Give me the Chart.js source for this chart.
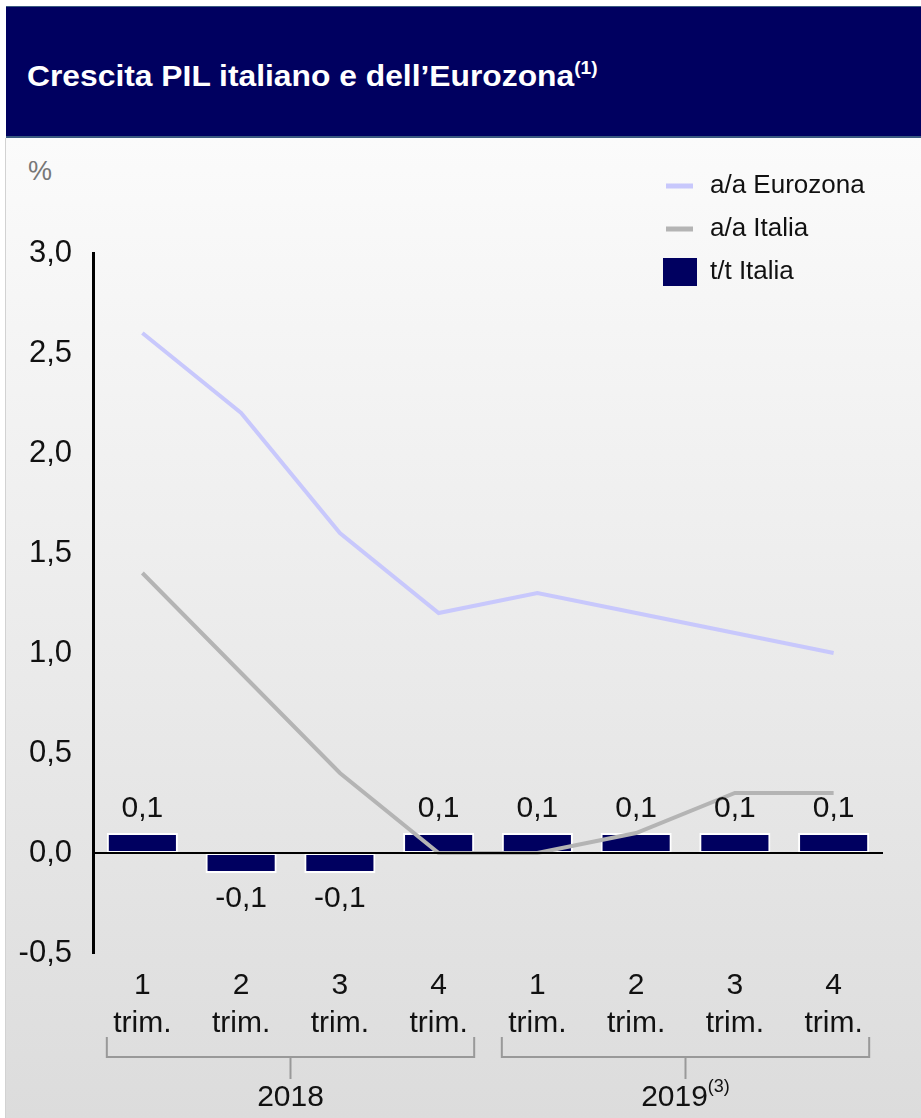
<!DOCTYPE html>
<html>
<head>
<meta charset="utf-8">
<script src="https://cdn.jsdelivr.net/npm/chart.js@4"></script>
<style>
  body { margin: 0; background: #fff; font-family: "Liberation Sans", Arial, sans-serif; }
  #wrap { position: relative; width: 921px; height: 1118px; overflow: hidden; }
  #title {
    position: absolute; left: 6px; top: 6px; width: 915px; height: 129px;
    background: #000060; border-top: 1px solid #3a5a80; border-bottom: 2px solid #3a5a80;
    color: #fff; font-weight: bold; font-size: 30px;
    box-sizing: content-box;
  }
  #title span.t { position: absolute; left: 21px; top: 51px; white-space: nowrap;
                  transform: scaleX(1.06); transform-origin: left center; }
  #title sup { font-size: 18px; vertical-align: 12px; }
  #body {
    position: absolute; left: 5px; top: 138px; width: 915px; height: 980px;
    border-left: 1px solid #d2d2d2;
    background: linear-gradient(#fbfbfb, #dcdcdc);
  }
  #pct { position: absolute; left: 22px; top: 18px; color: #777; font-size: 27px; }
  canvas { position: absolute; left: 0; top: 0; }
</style>
</head>
<body>
<div id="wrap">
  <div id="title"><span class="t">Crescita PIL italiano e dell’Eurozona<sup>(1)</sup></span></div>
  <div id="body">
    <div id="pct">%</div>
    <canvas id="gdpChart" width="915" height="980"></canvas>
  </div>
</div>
<script>
const quarters = [['1', 'trim.'], ['2', 'trim.'], ['3', 'trim.'], ['4', 'trim.'],
                  ['1', 'trim.'], ['2', 'trim.'], ['3', 'trim.'], ['4', 'trim.']];
const years = [
  { label: '2018', note: '', from: 0, to: 3 },
  { label: '2019', note: '(3)', from: 4, to: 7 }
];
const eurozonaYoY = [2.6, 2.2, 1.6, 1.2, 1.3, 1.2, 1.1, 1.0];
const italiaYoY = [1.4, 0.9, 0.4, 0.0, 0.0, 0.1, 0.3, 0.3];
const italiaQoQ = [0.1, -0.1, -0.1, 0.1, 0.1, 0.1, 0.1, 0.1];

const FONT = '"Liberation Sans", Arial, sans-serif';
const fmt = v => v.toFixed(1).replace('.', ',');

// zero line, bar value labels, year brackets, legend
const extras = {
  id: 'extras',
  afterDatasetsDraw(chart) {
    const { ctx, chartArea } = chart;
    const x = chart.scales.x, y = chart.scales.y;
    const y0 = y.getPixelForValue(0);

    ctx.save();
    ctx.strokeStyle = '#000';
    ctx.lineWidth = 2;
    ctx.beginPath();
    ctx.moveTo(chartArea.left, y0);
    ctx.lineTo(chartArea.right, y0);
    ctx.stroke();

    ctx.fillStyle = '#111';
    ctx.font = '30px ' + FONT;
    ctx.textAlign = 'center';
    ctx.textBaseline = 'middle';
    const barMeta = chart.getDatasetMeta(0);
    barMeta.data.forEach((bar, i) => {
      const v = italiaQoQ[i];
      const yy = v >= 0 ? bar.y - 24 : bar.y + 26;
      ctx.fillText(fmt(v), bar.x, yy);
    });

    // year brackets
    const half = barMeta.data[0].width / 2;
    ctx.strokeStyle = '#999';
    ctx.lineWidth = 2;
    years.forEach(yr => {
      const l = x.getPixelForValue(yr.from) - half;
      const r = x.getPixelForValue(yr.to) + half;
      const m = (l + r) / 2;
      const top = 899, mid = 919, bot = 941;
      ctx.beginPath();
      ctx.moveTo(l, top); ctx.lineTo(l, mid); ctx.lineTo(r, mid); ctx.lineTo(r, top);
      ctx.moveTo(m, mid); ctx.lineTo(m, bot);
      ctx.stroke();

      ctx.font = '30px ' + FONT;
      const w1 = ctx.measureText(yr.label).width;
      ctx.font = '18px ' + FONT;
      const w2 = yr.note ? ctx.measureText(yr.note).width : 0;
      const start = m - (w1 + w2) / 2;
      ctx.textAlign = 'left';
      ctx.font = '30px ' + FONT;
      ctx.fillText(yr.label, start, 960);
      if (yr.note) {
        ctx.font = '18px ' + FONT;
        ctx.fillText(yr.note, start + w1, 949);
      }
    });

    // legend
    ctx.textAlign = 'left';
    ctx.font = '26px ' + FONT;
    const lx = 657, ly = 48, step = 43;
    chart.data.datasets.slice().reverse().forEach((ds, i) => {
      const yy = ly + i * step;
      if (ds.type === 'line') {
        ctx.fillStyle = ds.borderColor;
        ctx.fillRect(lx + 3, yy - 2.5, 27, 5);
      } else {
        ctx.fillStyle = ds.backgroundColor;
        ctx.fillRect(lx, yy - 14, 34, 28);
      }
      ctx.fillStyle = '#111';
      ctx.fillText(ds.label, lx + 47, yy);
    });
    ctx.restore();
  }
};

new Chart(document.getElementById('gdpChart'), {
  type: 'bar',
  data: {
    labels: quarters,
    datasets: [
      {
        label: 't/t Italia',
        data: italiaQoQ,
        backgroundColor: '#000060',
        borderColor: '#ffffff',
        borderWidth: 2,
        borderSkipped: false,
        categoryPercentage: 1,
        barPercentage: 0.72,
        order: 2
      },
      {
        type: 'line',
        label: 'a/a Italia',
        data: italiaYoY,
        borderColor: '#b4b4b4',
        borderWidth: 4,
        pointRadius: 0,
        tension: 0,
        order: 1
      },
      {
        type: 'line',
        label: 'a/a Eurozona',
        data: eurozonaYoY,
        borderColor: '#c8c8fc',
        borderWidth: 4,
        pointRadius: 0,
        tension: 0,
        order: 1
      }
    ]
  },
  options: {
    responsive: false,
    animation: false,
    layout: { padding: { top: 115, right: 38, left: 0, bottom: 0 } },
    plugins: { legend: { display: false }, tooltip: { enabled: false } },
    scales: {
      x: {
        grid: { display: false },
        border: { display: false },
        ticks: {
          color: '#111',
          font: { size: 30, family: FONT, lineHeight: 1.27 },
          padding: 6,
          maxRotation: 0
        },
        afterFit(scale) { scale.height = 165; }
      },
      y: {
        min: -0.5,
        max: 3,
        grid: { display: false, drawTicks: false },
        border: { display: true, color: '#000', width: 3 },
        ticks: {
          stepSize: 0.5,
          color: '#111',
          padding: 21,
          font: { size: 31, family: FONT },
          callback: v => fmt(v)
        },
        afterFit(scale) { scale.width = 87; }
      }
    }
  },
  plugins: [extras]
});
</script>
</body>
</html>
